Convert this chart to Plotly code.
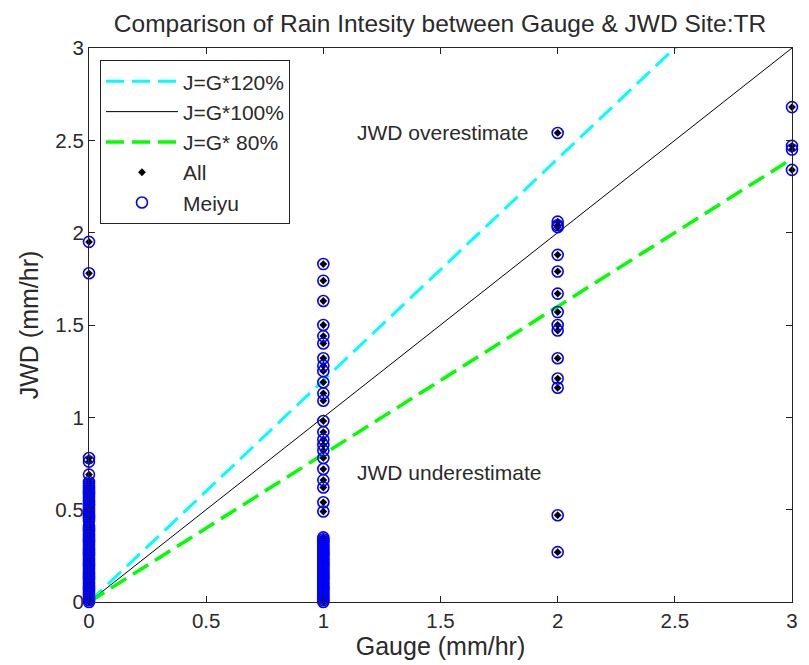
import plotly.graph_objects as go

# ---- data ----
gauge_0 = [1.95, 1.78, 0.78, 0.76, 0.69,
           0.65, 0.64, 0.63, 0.62, 0.61, 0.60, 0.59, 0.58, 0.57, 0.56, 0.55, 0.54, 0.53,
           0.52, 0.51, 0.50, 0.49, 0.48, 0.47, 0.46, 0.45, 0.44, 0.41, 0.40, 0.39, 0.38,
           0.37, 0.36, 0.35, 0.34, 0.33, 0.32, 0.31, 0.30, 0.29, 0.28, 0.27, 0.26, 0.25,
           0.24, 0.23, 0.22, 0.21, 0.20, 0.19, 0.18, 0.17, 0.16, 0.15, 0.14, 0.13, 0.12,
           0.11, 0.10, 0.09, 0.08, 0.07, 0.06, 0.05, 0.04, 0.03, 0.02, 0.01, 0.0]
gauge_1 = [1.83, 1.74, 1.63, 1.50, 1.44, 1.40, 1.32, 1.28, 1.25, 1.19, 1.13, 1.09, 0.98,
           0.92, 0.88, 0.85, 0.82, 0.78, 0.72, 0.66, 0.62, 0.54, 0.49,
           0.35, 0.34, 0.33, 0.32, 0.31, 0.30, 0.29, 0.28, 0.27, 0.26, 0.25, 0.24, 0.23,
           0.22, 0.21, 0.20, 0.19, 0.18, 0.17, 0.16, 0.15, 0.14, 0.13, 0.12, 0.11, 0.10,
           0.09, 0.08, 0.07, 0.06, 0.05, 0.04, 0.03, 0.02, 0.01, 0.0]
gauge_2 = [2.54, 2.06, 2.04, 2.03, 1.88, 1.79, 1.67, 1.57, 1.50, 1.47, 1.32, 1.21, 1.16,
           0.47, 0.27]
gauge_3 = [2.68, 2.47, 2.45, 2.34]

xs = [0] * len(gauge_0) + [1] * len(gauge_1) + [2] * len(gauge_2) + [3] * len(gauge_3)
ys = gauge_0 + gauge_1 + gauge_2 + gauge_3

ratio_labels = ["J=G*120%", "J=G*100%", "J=G* 80%"]
ratios = [1.2, 1.0, 0.8]
line_x = [0, 3]

FONT = "Liberation Sans, Arial, sans-serif"
TXT = "#2a2a2a"

fig = go.Figure()
fig.add_trace(go.Scatter(x=line_x, y=[v * ratios[0] for v in line_x], mode="lines",
                         name=ratio_labels[0],
                         line=dict(color="#00FFFF", width=3, dash="18px,8px")))
fig.add_trace(go.Scatter(x=line_x, y=[v * ratios[1] for v in line_x], mode="lines",
                         name=ratio_labels[1], line=dict(color="black", width=1)))
fig.add_trace(go.Scatter(x=line_x, y=[v * ratios[2] for v in line_x], mode="lines",
                         name=ratio_labels[2],
                         line=dict(color="#00FF00", width=3.5, dash="18px,8px")))
fig.add_trace(go.Scatter(x=xs, y=ys, mode="markers", name="All", cliponaxis=False,
                         marker=dict(symbol="diamond", size=6, color="black")))
fig.add_trace(go.Scatter(x=xs, y=ys, mode="markers", name="Meiyu", cliponaxis=False,
                         marker=dict(symbol="circle-open", size=11, color="#0000FF",
                                     line=dict(width=1.6, color="#0000FF"))))

fig.add_annotation(x=1.511, y=2.54, text="JWD overestimate", showarrow=False,
                   font=dict(size=21, color=TXT, family=FONT))
fig.add_annotation(x=1.537, y=0.70, text="JWD underestimate", showarrow=False,
                   font=dict(size=21, color=TXT, family=FONT))

axis_common = dict(range=[0, 3], tickvals=[0, 0.5, 1, 1.5, 2, 2.5, 3],
                   showline=True, linecolor="#222", linewidth=1.2, mirror="ticks",
                   ticks="inside", ticklen=6, tickcolor="#222", showgrid=False,
                   zeroline=False, tickfont=dict(size=20.5, color=TXT, family=FONT))

fig.update_layout(
    width=809, height=665,
    margin=dict(l=81, r=25, t=40, b=71),
    paper_bgcolor="white", plot_bgcolor="white",
    font=dict(family=FONT, color=TXT),
    title=dict(text="Comparison of Rain Intesity between Gauge & JWD Site:TR",
               x=0.534, xanchor="center", y=0.977, yanchor="middle",
               font=dict(size=24.5, color=TXT, family=FONT)),
    xaxis=dict(axis_common, title=dict(text="Gauge (mm/hr)", standoff=5,
                                       font=dict(size=25, family=FONT))),
    yaxis=dict(axis_common, title=dict(text="JWD (mm/hr)", standoff=9,
                                       font=dict(size=25, family=FONT))),
    legend=dict(x=0.0156, y=0.978, xanchor="left", yanchor="top",
                bgcolor="white", bordercolor="#222", borderwidth=1,
                font=dict(size=21, color=TXT, family=FONT),
                tracegroupgap=0, itemwidth=72),
    showlegend=True,
)

fig.write_html("out.html")
